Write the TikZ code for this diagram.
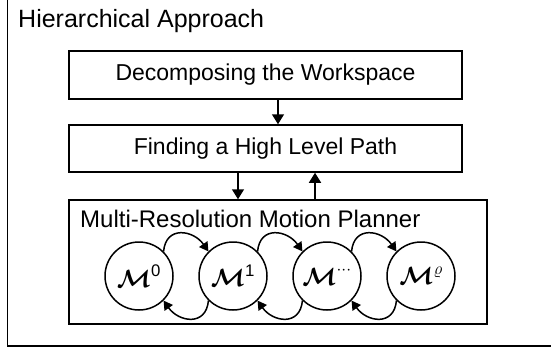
\documentclass[tikz,border=0pt]{standalone}
\usepackage{amsmath}
\usepackage{bm}
\usepackage{fontspec}
\setmainfont{Liberation Sans}
\usetikzlibrary{arrows.meta}

\begin{document}
\begin{tikzpicture}[x=1pt,y=-1pt,
  frame/.style={line width=1.5pt},
  stagebox/.style={draw,line width=1.5pt,inner sep=0pt,font=\fontsize{23}{27}\selectfont},
  level/.style={draw,circle,line width=1.5pt,minimum size=68pt,inner sep=0pt,font=\fontsize{24}{28}\selectfont},
  label/.style={inner sep=0pt,anchor=base west,font=\fontsize{24}{28}\selectfont},
  arr/.style={line width=1.5pt,-{Triangle[length=10pt,width=12pt]}},
  loop/.style={line width=1.5pt,-{Triangle[length=9pt,width=10pt]},looseness=1.5}]

\useasboundingbox (0,0) rectangle (551,354);

% outer frame of the hierarchical approach
\draw[frame] (7.5,-2) -- (7.5,346) -- (553,346);
\node[label,font=\fontsize{25}{30}\selectfont] (title) at (18,27) {Hierarchical Approach};

% stages
\node[stagebox,minimum width=393pt,minimum height=48pt] (dec) at (265.5,75) {Decomposing the Workspace};
\node[stagebox,minimum width=393pt,minimum height=47pt] (path) at (265.5,148.5) {Finding a High Level Path};
\node[stagebox,minimum width=418pt,minimum height=124pt] (mrmp) at (278,262) {};
\node[label] (mrmptitle) at (80,227) {Multi-Resolution Motion Planner};

% connectors between stages
\coordinate (c1) at (278,0);
\coordinate (c2) at (238,0);
\coordinate (c3) at (315,0);
\draw[arr] (dec.south -| c1) -- (path.north -| c1);
\draw[arr] (path.south -| c2) -- (mrmp.north -| c2);
\draw[arr] (mrmp.north -| c3) -- (path.south -| c3);

% resolution levels
\node[level] (m0) at (139,276) {$\boldsymbol{\mathcal{M}}^{\text{0}}$};
\node[level] (m1) at (233,276) {$\boldsymbol{\mathcal{M}}^{\text{1}}$};
\node[level] (m2) at (327,276) {$\boldsymbol{\mathcal{M}}^{\cdots}$};
\node[level] (m3) at (421,276) {$\boldsymbol{\mathcal{M}}^{\varrho}$};

% refinement and coarsening loops
\foreach \a/\b in {m0/m1,m1/m2,m2/m3}{
  \draw[loop] (\a.45) to[out=85,in=125] (\b.135);
  \draw[loop] (\b.225) to[out=-95,in=-55] (\a.-45);
}
\end{tikzpicture}
\end{document}
